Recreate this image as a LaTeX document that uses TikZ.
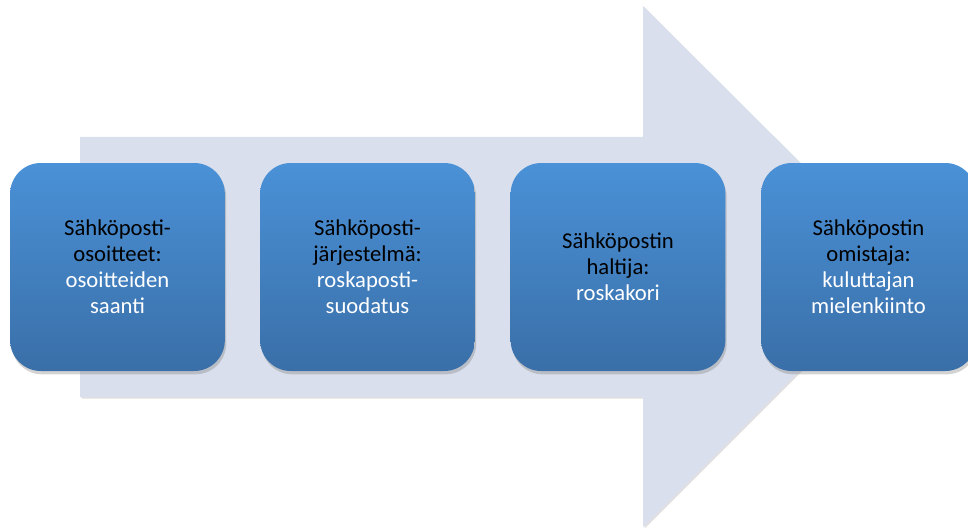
\documentclass[tikz,border=0pt]{standalone}
\usepackage{fontspec}
\setmainfont{Carlito}
\newfontfamily\bodyfont[Color=FFFFFF]{Carlito}
\usetikzlibrary{shadows}
\definecolor{arrowfill}{HTML}{D9DFEC}
\definecolor{boxtop}{HTML}{4A91D7}
\definecolor{boxbot}{HTML}{3A6FA8}

\tikzset{
  bigarrow/.style={fill=arrowfill,drop shadow={shadow xshift=1.2pt,shadow yshift=-1.2pt,opacity=0.25}},
  stagebox/.style={rounded corners=23pt,top color=boxtop,bottom color=boxbot,
    minimum width=161pt,minimum height=156pt,text width=150pt,align=center,inner sep=0pt,
    font=\fontsize{17}{19.5}\selectfont,
    drop shadow={shadow xshift=1pt,shadow yshift=-2.5pt,opacity=0.35}},
}

\begin{document}
\begin{tikzpicture}[x=0.75pt,y=-0.75pt]
\useasboundingbox (0,0) rectangle (968,528);
% background arrow
\fill[bigarrow] (80,137) -- (643,137) -- (643,6) -- (904,266) -- (643,527) -- (643,397) -- (80,397) -- cycle;
% stages
\node[stagebox] (osoitteet) at (117.5,267) {Sähköposti-\\osoitteet:\\{\bodyfont osoitteiden\\saanti}};
\node[stagebox] (jarjestelma) at (367.5,267) {Sähköposti-\\järjestelmä:\\{\bodyfont roskaposti-\\suodatus}};
\node[stagebox] (haltija) at (618,267) {Sähköpostin\\haltija:\\{\bodyfont roskakori}};
\node[stagebox] (omistaja) at (868.5,267) {Sähköpostin\\omistaja:\\{\bodyfont kuluttajan\\mielenkiinto}};
\end{tikzpicture}
\end{document}
